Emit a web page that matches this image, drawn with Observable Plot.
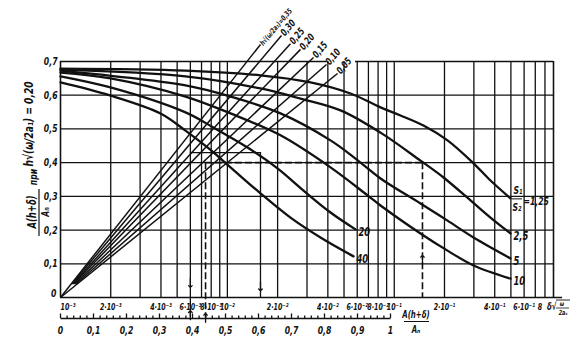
<!DOCTYPE html>
<html>
<head>
<meta charset="utf-8">
<script src="https://cdn.jsdelivr.net/npm/d3@7"></script>
<script src="https://cdn.jsdelivr.net/npm/@observablehq/plot@0.6"></script>
<style>
html,body{margin:0;padding:0;background:#fff;}
#chart svg{display:block;}
</style>
</head>
<body>
<div id="chart"></div>
<script>
const FONT = '"Liberation Sans Narrow","DejaVu Sans Condensed","Roboto Condensed","Liberation Sans",sans-serif';

// ---------- data ----------
const xTicks = [0.001,0.002,0.004,0.006,0.008,0.01,0.02,0.04,0.06,0.08,0.1,0.2,0.4,0.6,0.8];
const xTickLabels = ["10⁻³","2·10⁻³","4·10⁻³","6·10⁻³","8·10⁻³","10⁻²","2·10⁻²","4·10⁻²","6·10⁻²","8·10⁻²","10⁻¹","2·10⁻¹","4·10⁻¹","6·10⁻¹","8"];
const xGrid = [0.002,0.003,0.004,0.005,0.006,0.007,0.008,0.009,
               0.01,0.02,0.03,0.04,0.05,0.06,0.07,0.08,0.09,
               0.1,0.2,0.3,0.4,0.5,0.6,0.7,0.8];
const yTicks = [0,0.1,0.2,0.3,0.4,0.5,0.6,0.7];
const yTickLabels = ["0","0,1","0,2","0,3","0,4","0,5","0,6","0,7"];
const yGrid = [0.1,0.2,0.3,0.4,0.5,0.6];
const linTicks = [0,0.1,0.2,0.3,0.4,0.5,0.6,0.7,0.8,0.9,1];
const linLabels = ["0","0,1","0,2","0,3","0,4","0,5","0,6","0,7","0,8","0,9","1"];
const linMinor = [0.02,0.04,0.06,0.08,0.12,0.14,0.16,0.18,0.22,0.24,0.26,0.28,0.32,0.34,0.36,0.38,
                  0.42,0.44,0.46,0.48,0.52,0.54,0.56,0.58,0.62,0.64,0.66,0.68,0.72,0.74,0.76,0.78,
                  0.82,0.84,0.86,0.88,0.92,0.94,0.96,0.98];

// S1/S2 curves: [x, y]
const c125 = [[0.001,0.679],[0.005611,0.673],[0.01579,0.659],[0.03149,0.638],[0.05468,0.605],[0.08272,0.564],[0.1090,0.540],[0.1497,0.510],[0.2085,0.466],[0.2985,0.398],[0.3773,0.347],[0.4972,0.294]];
const c25  = [[0.001,0.676],[0.005611,0.656],[0.01579,0.620],[0.02743,0.590],[0.04765,0.555],[0.08272,0.489],[0.1436,0.406],[0.1973,0.356],[0.2864,0.288],[0.3773,0.237],[0.4972,0.190]];
const c5   = [[0.001,0.673],[0.005611,0.629],[0.01044,0.596],[0.02081,0.546],[0.04149,0.466],[0.05859,0.412],[0.08272,0.353],[0.1436,0.279],[0.2085,0.228],[0.2985,0.178],[0.4972,0.116]];
const c10  = [[0.001,0.667],[0.001994,0.650],[0.005611,0.596],[0.01044,0.546],[0.02081,0.481],[0.04149,0.386],[0.06914,0.303],[0.08272,0.273],[0.1436,0.190],[0.2085,0.139],[0.2985,0.095],[0.4972,0.056]];
const c20  = [[0.001,0.656],[0.001994,0.623],[0.005611,0.549],[0.008257,0.504],[0.01320,0.445],[0.01997,0.383],[0.02859,0.317],[0.04149,0.252],[0.05859,0.202]];
const c40  = [[0.001,0.638],[0.001994,0.599],[0.003974,0.546],[0.005611,0.495],[0.007601,0.445],[0.01044,0.386],[0.01579,0.309],[0.02389,0.237],[0.03614,0.178],[0.05700,0.122]];
const curveLabels = ["1,25","2,5","5","10","20","40"];

// h*sqrt(w/2a1) lines
const fanLabels = ["h√(ω/2a₁)=0,35","0,30","0,25","0,20","0,15","0,10","0,05"];
const fanX0 = [0.001,0.001169,0.001184,0.001198,0.001216,0.001237,0.001];
const fanY0 = [0,0.04,0.04,0.04,0.04,0.04,0];
const fanX1 = [0.01579,0.02110,0.02389,0.02743,0.03282,0.03926,0.04571];
const fanY1 = [0.7505,0.777,0.753,0.736,0.712,0.691,0.6645];

// worked example
const dashH = [{x1:0.0074,x2:0.1476,y:0.40}];
const dashV = [{x:0.0074,y1:0.40,y2:-0.059},{x:0.1476,y1:0.40,y2:0}];
const solidH = [{x1:0.006,x2:0.01579,y:0.43}];
const solidV = [{x:0.006,y1:0,y2:-0.059},{x:0.01579,y1:0.43,y2:0}];
const arrows = [{x:0.006,y:0.030,r:180},{x:0.006,y:-0.039,r:0},{x:0.0074,y:-0.047,r:0},{x:0.01579,y:0.02,r:180},{x:0.1476,y:0.125,r:0}];
const topSegs = [{x1:0.001,x2:0.0397},{x1:0.0586,x2:0.9}];

// ---------- build tables ----------
const curveSets = [c125,c25,c5,c10,c20,c40];
const curveRows = curveSets.flatMap((pts,i)=>pts.map(([x,y])=>({x,y,s:curveLabels[i]})));
const curveEnds = curveSets.map((pts,i)=>({x:pts[pts.length-1][0],y:pts[pts.length-1][1],label:curveLabels[i]}));
const fanRows = fanLabels.map((l,i)=>({label:l,x0:fanX0[i],y0:fanY0[i],x1:fanX1[i],y1:fanY1[i]}));
const xTickRows = xTicks.map((v,i)=>({v,label:xTickLabels[i]}));
const yTickRows = yTicks.map((v,i)=>({v,label:yTickLabels[i]}));

const ink = "#111";
const chart = Plot.plot({
  width: 581, height: 351,
  marginLeft: 60, marginRight: 28, marginTop: 61, marginBottom: 54,
  x: {type: "log", domain: [0.001, 0.9], axis: null},
  y: {domain: [0, 0.7], axis: null},
  style: {background: "#fff", color: ink, fontFamily: FONT, fontStyle: "italic", fontWeight: "bold"},
  marks: [
    Plot.ruleX(xGrid, {y1: 0, y2: 0.7, stroke: ink, strokeWidth: 1.3}),
    Plot.ruleY(yGrid, {x1: 0.001, x2: 0.9, stroke: ink, strokeWidth: 1.3}),
    Plot.ruleX([0.001, 0.9], {y1: 0, y2: 0.7, stroke: ink, strokeWidth: 1.6}),
    Plot.ruleY([0], {x1: 0.001, x2: 1.02, stroke: ink, strokeWidth: 1.6}),
    Plot.ruleY(topSegs, {x1: "x1", x2: "x2", y: 0.7, stroke: ink, strokeWidth: 1.6}),
    // fan lines
    Plot.link(fanRows, {x1: "x0", y1: "y0", x2: "x1", y2: "y1", stroke: ink, strokeWidth: 1.5}),
    Plot.text(fanRows.slice(0,1), {x: "x1", y: "y1", text: "label", rotate: -50, textAnchor: "start", dx: 1, dy: 0, fontSize: 7.5, fill: ink}),
    Plot.text(fanRows.slice(1), {x: "x1", y: "y1", text: "label", rotate: -50, textAnchor: "start", dx: 1, dy: -1, fontSize: 10, fill: ink}),
    // curves
    Plot.line(curveRows, {x: "x", y: "y", z: "s", curve: "catmull-rom", stroke: ink, strokeWidth: 2.3}),
    Plot.text(curveEnds.slice(1), {x: "x", y: "y", text: "label", textAnchor: "start", dx: 3, dy: 3, fontSize: 12, fill: ink}),
    Plot.text(curveEnds.slice(0,1), {x: "x", y: "y", text: () => "S₁", textAnchor: "start", dx: 3, dy: -8, fontSize: 11, fill: ink}),
    Plot.text(curveEnds.slice(0,1), {x: "x", y: "y", text: () => "S₂", textAnchor: "start", dx: 2, dy: 9, fontSize: 11, fill: ink}),
    Plot.text(curveEnds.slice(0,1), {x: "x", y: "y", text: () => "=" + curveLabels[0], textAnchor: "start", dx: 13, dy: 3, fontSize: 11, fill: ink}),
    // worked example
    Plot.ruleY(dashH, {x1: "x1", x2: "x2", y: "y", stroke: ink, strokeWidth: 1.6, strokeDasharray: "7,3"}),
    Plot.ruleX(dashV, {x: "x", y1: "y1", y2: "y2", stroke: ink, strokeWidth: 1.6, strokeDasharray: "7,3"}),
    Plot.ruleY(solidH, {x1: "x1", x2: "x2", y: "y", stroke: ink, strokeWidth: 1.3}),
    Plot.ruleX(solidV, {x: "x", y1: "y1", y2: "y2", stroke: ink, strokeWidth: 1.3}),
    Plot.vector(arrows, {x: "x", y: "y", rotate: "r", length: 9, anchor: "end", stroke: ink, strokeWidth: 1.3}),
    // axis labels
    Plot.text(xTickRows.slice(0,1), {x: "v", y: 0, text: "label", textAnchor: "start", dy: 10, fontSize: 9, fill: ink}),
    Plot.text(xTickRows.slice(1, -1), {x: "v", y: 0, text: "label", dy: 10, fontSize: 9, fill: ink}),
    Plot.text(xTickRows.slice(-1), {x: "v", y: 0, text: "label", dx: -5, dy: 10, fontSize: 9, fill: ink}),
    Plot.text(yTickRows.slice(0,1), {x: 0.001, y: "v", text: "label", textAnchor: "end", dx: -4, dy: -4, fontSize: 11, fill: ink}),
    Plot.text(yTickRows.slice(1), {x: 0.001, y: "v", text: "label", textAnchor: "end", dx: -3, fontSize: 11, fill: ink})
  ]
});
document.getElementById("chart").append(chart);

// ---------- extra annotations ----------
const svg = d3.select(chart);
const tf = (sel) => sel.style("font-family", FONT).style("font-style","italic").style("font-weight","bold").attr("fill", ink);

// secondary linear axis A(h+δ)/An
const lin = d3.scaleLinear([0, 1], [60, 390]);
const gMinor = svg.append("g").attr("transform", "translate(0,318)")
  .call(d3.axisBottom(lin).tickValues(linMinor).tickSizeInner(-2.5).tickSizeOuter(0).tickFormat(""));
const gMajor = svg.append("g").attr("transform", "translate(0,318)")
  .call(d3.axisBottom(lin).tickValues(linTicks).tickSizeInner(-4.5).tickSizeOuter(0).tickPadding(8)
    .tickFormat((d,i) => linLabels[i]));
[gMinor, gMajor].forEach(g => {
  g.selectAll("path,line").attr("stroke", ink).attr("stroke-width", 1.3);
  g.selectAll("text").call(tf).style("font-size","11px");
  g.attr("font-family", null).attr("font-size", null);
});
gMinor.select(".domain").remove();

// x-axis title for linear scale
tf(svg.append("text").attr("x", 416).attr("y", 318).attr("text-anchor","middle").style("font-size","10px").text("A(h+δ)"));
svg.append("line").attr("x1",404).attr("x2",429).attr("y1",321.5).attr("y2",321.5).attr("stroke",ink).attr("stroke-width",1);
tf(svg.append("text").attr("x", 416).attr("y", 333).attr("text-anchor","middle").style("font-size","10px").text("Aₙ"));

// x-axis title for log scale
tf(svg.append("text").attr("x", 547).attr("y", 310).attr("text-anchor","start").style("font-size","10px").text("δ√"));
svg.append("line").attr("x1",556).attr("x2",570).attr("y1",300).attr("y2",300).attr("stroke",ink).attr("stroke-width",0.9);
tf(svg.append("text").attr("x", 562).attr("y", 306).attr("text-anchor","middle").style("font-size","7px").text("ω"));
svg.append("line").attr("x1",556).attr("x2",569).attr("y1",308).attr("y2",308).attr("stroke",ink).attr("stroke-width",0.8);
tf(svg.append("text").attr("x", 563).attr("y", 315).attr("text-anchor","middle").style("font-size","7px").text("2aₛ"));

// S1/S2 fraction bar
const xs = chart.scale("x"), ys = chart.scale("y");
const ex = xs.apply(c125[c125.length-1][0]), ey = ys.apply(c125[c125.length-1][1]);
svg.append("line").attr("x1", ex+2).attr("x2", ex+12).attr("y1", ey+1).attr("y2", ey+1).attr("stroke", ink).attr("stroke-width", 1);

// y-axis title (rotated)
const rot = (x, y, txt, size) => tf(svg.append("text").attr("transform", `translate(${x},${y}) rotate(-90)`)
    .attr("text-anchor","middle").attr("dominant-baseline","central").style("font-size", size + "px").text(txt));
rot(28, 124, "h√(ω/2a₁) = 0,20", 13);
rot(33, 177, "при", 11);
rot(32, 212, "A(h+δ)", 12);
svg.append("line").attr("x1", 39).attr("x2", 39).attr("y1", 189).attr("y2", 236).attr("stroke", ink).attr("stroke-width", 1.2);
rot(45, 212, "Aₙ", 11);

// condense all lettering (narrow drafting type)
svg.selectAll("text").each(function() {
  const t = this;
  if (!t.textContent) return;
  const len = t.getComputedTextLength();
  if (len > 0) {
    t.setAttribute("textLength", (len * 0.78).toFixed(1));
    t.setAttribute("lengthAdjust", "spacingAndGlyphs");
  }
});
</script>
</body>
</html>
